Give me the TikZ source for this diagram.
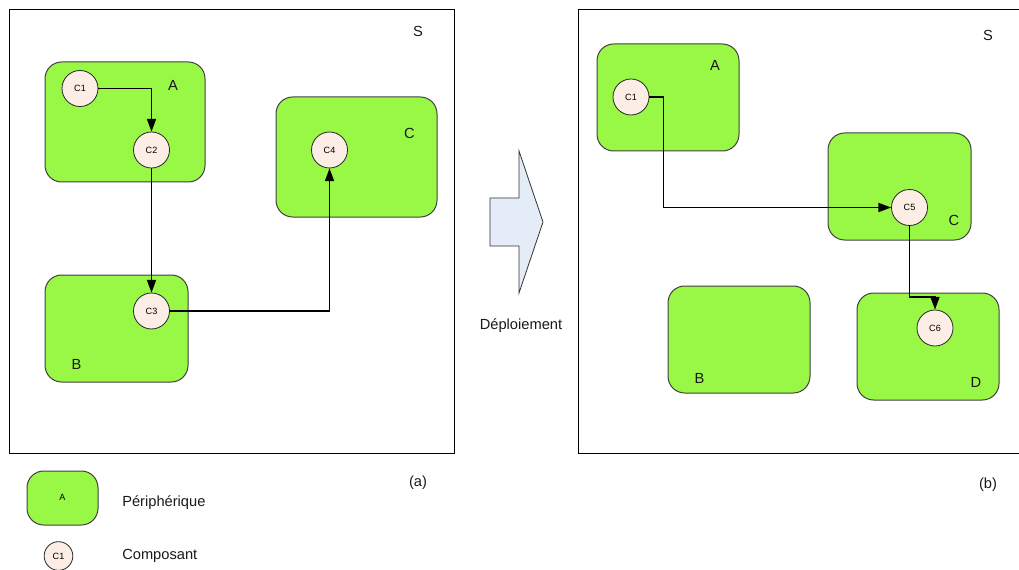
\documentclass[tikz,border=0pt]{standalone}
\usepackage{fontspec}
\setmainfont{Liberation Sans}
\usetikzlibrary{arrows.meta}
\definecolor{devgreen}{HTML}{99F746}
\definecolor{compfill}{HTML}{FCEEE4}
\definecolor{arrowfill}{HTML}{E4ECF7}
\tikzset{
  x=0.75pt,y=-0.75pt,
  sysbox/.style={draw=black,line width=0.6pt,fill=none},
  device/.style={draw=black!75,fill=devgreen,line width=0.75pt,rounded corners=12.5pt},
  comp/.style={circle,draw=black!85,fill=compfill,line width=0.6pt,minimum size=27pt,inner sep=0pt,font=\fontsize{6.8}{8}\selectfont},
  compsmall/.style={comp,minimum size=21.5pt},
  conn/.style={draw=black,line width=0.95pt,-{Triangle[length=9.5pt,width=6.8pt]}},
  lab/.style={inner sep=0pt,font=\fontsize{11}{13}\selectfont,text=black!90},
}
\begin{document}
\begin{tikzpicture}
\useasboundingbox (0,0) rectangle (1019,570);
% system frames
\draw[sysbox] (9,9) rectangle (454,453);
\draw[sysbox] (1030,9) -- (578,9) -- (578,453) -- (1030,453);
% left devices
\draw[device] (45,62) rectangle (205,182);
\draw[device] (45,275) rectangle (188,382);
\draw[device] (276,97) rectangle (437,217);
% right devices
\draw[device] (597,44) rectangle (739,151);
\draw[device] (828,133) rectangle (971,240);
\draw[device] (668,286) rectangle (810,393);
\draw[device] (857,293) rectangle (999,400);
% left components
\node[comp] (c1) at (80,88.5) {C1};
\node[comp] (c2) at (151.5,150) {C2};
\node[comp] (c3) at (151.5,311) {C3};
\node[comp] (c4) at (329.5,150) {C4};
% right components
\node[comp] (d1) at (631,97) {C1};
\node[comp] (c5) at (909.5,207.5) {C5};
\node[comp] (c6) at (935,328) {C6};
% left connectors
\draw[conn] (c1.east) -| (c2.north);
\draw[conn] (c2.south) -- (c3.north);
\draw[conn] (c3.east) -| (c4.south);
% right connectors
\coordinate (bend1) at (663.5,97);
\coordinate (bend2) at (663.5,207.5);
\coordinate (bend3) at (909.5,297);
\coordinate (bend4) at (935,297);
\draw[conn] (d1.east) -- (bend1) -- (bend2) -- (c5.west);
\draw[conn] (c5.south) -- (bend3) -- (bend4) -- (c6.north);
% labels
\node[lab] (sl) at (418,31) {S};
\node[lab] (sr) at (988,35) {S};
\node[lab] (la) at (173,85.5) {A};
\node[lab] (lb) at (76.5,364) {B};
\node[lab] (lc) at (409.5,133.5) {C};
\node[lab] (ra) at (715,65) {A};
\node[lab] (rb) at (699.5,378) {B};
\node[lab] (rc) at (954,220) {C};
\node[lab] (rd) at (976,382) {D};
\node[lab] (cap1) at (418,483) {(a)};
\node[lab] (cap2) at (988,485) {(b)};
% deployment arrow
\draw[draw=black!80,fill=arrowfill,line width=0.6pt] (490,198) -- (519,198) -- (519,151) -- (543,222) -- (519,293) -- (519,246) -- (490,246) -- cycle;
\node[lab] (dep) at (521,326) {Déploiement};
% legend
\draw[device] (27,471) rectangle (98,525);
\node[inner sep=0pt,font=\fontsize{6.8}{8}\selectfont] (lega) at (62.5,497.5) {A};
\node[compsmall] (legc) at (58.5,556) {C1};
\node[lab,anchor=west] (p) at (122,502.5) {Périphérique};
\node[lab,anchor=west] (q) at (122,555.5) {Composant};
\end{tikzpicture}
\end{document}
